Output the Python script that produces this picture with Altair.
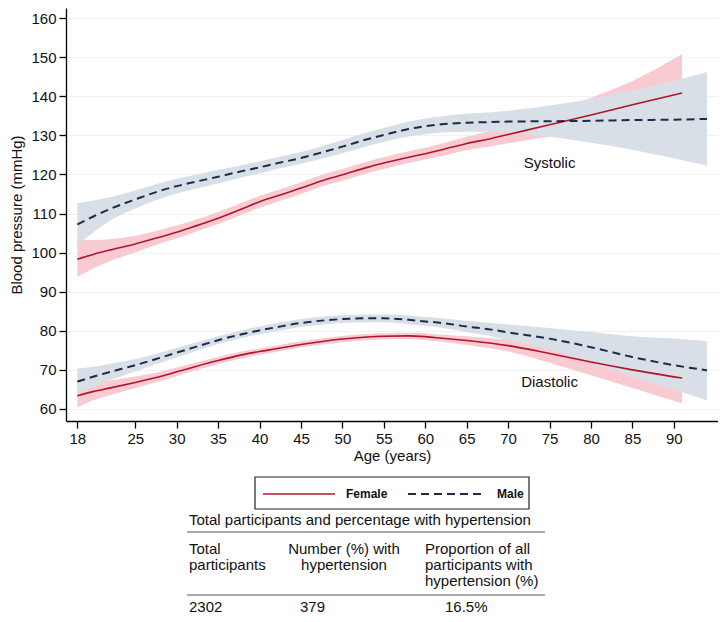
import altair as alt
import pandas as pd

FONT = "Liberation Sans"
RED = "#b3142c"
NAVY = "#1b2b48"
PINK = "#f8cbd3"
GRAY = "#d9dfe7"

# ---------------- data ----------------
female_age = [18, 20, 22, 25, 28, 30, 32, 35, 38, 40, 42, 45, 48, 50, 53, 55, 58, 60, 62, 65, 68, 70, 75, 80, 85, 91]
female_sys = [98.3, 99.6, 100.7, 102.2, 104.0, 105.2, 106.6, 108.8, 111.3, 113.0, 114.4, 116.5, 118.7, 119.9, 121.8,
              122.9, 124.4, 125.3, 126.3, 127.9, 129.2, 130.2, 132.7, 135.2, 137.8, 140.8]
female_sys_lo = [93.8, 96.0, 97.9, 100.0, 102.3, 103.6, 105.1, 107.3, 109.8, 111.5, 112.9, 115.0, 117.2, 118.4, 120.3,
                 121.4, 122.9, 123.8, 124.7, 126.2, 127.2, 128.0, 129.6, 131.0, 131.8, 131.0]
female_sys_hi = [103.2, 103.2, 103.4, 104.3, 105.8, 106.9, 108.2, 110.4, 112.9, 114.5, 115.9, 118.0, 120.2, 121.4, 123.3,
                 124.4, 125.9, 126.8, 127.9, 129.6, 131.2, 132.4, 135.8, 139.6, 143.9, 150.8]
female_dia = [63.4, 64.5, 65.4, 66.8, 68.3, 69.5, 70.7, 72.4, 73.9, 74.7, 75.4, 76.5, 77.4, 77.9, 78.4,
              78.6, 78.7, 78.5, 78.1, 77.5, 76.8, 76.2, 74.2, 72.0, 70.0, 67.9]
female_dia_lo = [60.4, 62.3, 63.6, 65.4, 67.1, 68.4, 69.7, 71.5, 73.0, 73.9, 74.6, 75.7, 76.6, 77.1, 77.6,
                 77.8, 77.9, 77.6, 77.2, 76.4, 75.5, 74.7, 71.8, 68.6, 65.4, 61.4]
female_dia_hi = [65.3, 66.5, 67.3, 68.3, 69.5, 70.6, 71.7, 73.3, 74.8, 75.5, 76.2, 77.3, 78.2, 78.7, 79.2,
                 79.4, 79.5, 79.4, 79.0, 78.6, 78.1, 77.7, 76.6, 75.4, 74.6, 74.4]

male_age = [18, 20, 22, 25, 28, 30, 32, 35, 38, 40, 42, 45, 48, 50, 53, 55, 58, 60, 62, 65, 68, 70, 75, 80, 85, 90, 94]
male_sys = [107.2, 109.3, 111.2, 113.6, 115.8, 117.0, 118.0, 119.4, 120.9, 121.8, 122.8, 124.2, 125.9, 127.1, 129.0,
            130.1, 131.6, 132.3, 132.8, 133.2, 133.4, 133.5, 133.6, 133.7, 133.9, 134.0, 134.2]
male_sys_lo = [101.9, 105.3, 108.2, 111.3, 113.8, 115.1, 116.2, 117.7, 119.3, 120.3, 121.3, 122.7, 124.3, 125.4, 127.2,
               128.3, 129.7, 130.3, 130.7, 130.9, 130.9, 130.7, 129.6, 128.1, 126.3, 124.1, 122.2]
male_sys_hi = [112.6, 113.3, 114.2, 115.9, 117.8, 118.9, 119.8, 121.1, 122.5, 123.3, 124.3, 125.7, 127.5, 128.8, 130.8,
               131.9, 133.5, 134.3, 134.9, 135.5, 135.9, 136.3, 137.6, 139.3, 141.5, 143.9, 146.2]
male_dia = [67.0, 68.3, 69.5, 71.2, 73.1, 74.4, 75.7, 77.6, 79.2, 80.1, 80.9, 82.0, 82.7, 83.0, 83.2,
            83.2, 82.8, 82.4, 82.0, 81.1, 80.3, 79.6, 78.0, 75.8, 73.3, 71.2, 69.9]
male_dia_lo = [64.0, 65.8, 67.4, 69.6, 71.8, 73.2, 74.6, 76.6, 78.2, 79.1, 79.9, 81.0, 81.7, 82.0, 82.2,
               82.2, 81.7, 81.3, 80.8, 79.7, 78.6, 77.6, 75.3, 71.9, 68.4, 65.0, 62.2]
male_dia_hi = [70.4, 70.8, 71.6, 72.8, 74.4, 75.6, 76.8, 78.6, 80.2, 81.1, 81.9, 83.0, 83.7, 84.0, 84.2,
               84.2, 83.9, 83.5, 83.2, 82.5, 82.0, 81.6, 80.7, 79.7, 78.6, 78.0, 77.4]

x_ticks = [18, 25, 30, 35, 40, 45, 50, 55, 60, 65, 70, 75, 80, 85, 90]
y_ticks = [60, 70, 80, 90, 100, 110, 120, 130, 140, 150, 160]

curve_labels = ["Systolic", "Diastolic"]
curve_label_age = [75, 75]
curve_label_val = [122.9, 66.9]

legend_labels = ["Female", "Male"]
table_title = "Total participants and percentage with hypertension"
col1_header = ["Total", "participants"]
col2_header = ["Number (%) with", "hypertension"]
col3_header = ["Proportion of all", "participants with", "hypertension (%)"]
row_values = ["2302", "379", "16.5%"]


def frame(ages, vals, lo, hi, measure):
    return pd.DataFrame({"age": ages, "value": vals, "lo": lo, "hi": hi, "measure": measure})


df_f = pd.concat([frame(female_age, female_sys, female_sys_lo, female_sys_hi, "Systolic"),
                  frame(female_age, female_dia, female_dia_lo, female_dia_hi, "Diastolic")])
df_m = pd.concat([frame(male_age, male_sys, male_sys_lo, male_sys_hi, "Systolic"),
                  frame(male_age, male_dia, male_dia_lo, male_dia_hi, "Diastolic")])
df_lab = pd.DataFrame({"label": curve_labels, "age": curve_label_age, "value": curve_label_val})

# ---------------- scales / axes ----------------
W, H = 652, 413
OX, OY = 66, 8  # page position of plot origin

xscale = alt.Scale(domain=[16.64, 95.33], nice=False, zero=False)
yscale = alt.Scale(domain=[56.93, 162.56], nice=False, zero=False)
xaxis = alt.Axis(values=x_ticks, title="Age (years)", grid=False, labelFlush=False,
                 tickSize=7, labelPadding=3, titlePadding=2)
yaxis = alt.Axis(values=y_ticks, title="Blood pressure (mmHg)", grid=True, labelFlush=False,
                 tickSize=7, labelPadding=3, titlePadding=6)

X = alt.X("age:Q", scale=xscale, axis=xaxis)
Y = alt.Y("value:Q", scale=yscale, axis=yaxis)
YL = alt.Y("lo:Q", scale=yscale, axis=yaxis)

band_f = alt.Chart(df_f).mark_area(color=PINK, opacity=1, interpolate="monotone").encode(
    x=X, y=YL, y2="hi:Q", detail="measure:N")
band_m = alt.Chart(df_m).mark_area(color=GRAY, opacity=1, interpolate="monotone").encode(
    x=X, y=YL, y2="hi:Q", detail="measure:N")
line_f = alt.Chart(df_f).mark_line(color=RED, strokeWidth=1.6, interpolate="monotone").encode(
    x=X, y=Y, detail="measure:N")
line_m = alt.Chart(df_m).mark_line(color=NAVY, strokeWidth=2, strokeDash=[8, 5], interpolate="monotone").encode(
    x=X, y=Y, detail="measure:N")
labels = alt.Chart(df_lab).mark_text(font=FONT, fontSize=15, color="#111", align="center",
                                     baseline="middle").encode(x=X, y=Y, text="label:N")

one = pd.DataFrame({"k": [0]})


def txt(s, x, y, align="left", size=15, weight="normal"):
    return alt.Chart(one).mark_text(align=align, baseline="middle", fontSize=size, fontWeight=weight,
                                    font=FONT, color="#111").encode(
        x=alt.value(x - OX), y=alt.value(y - OY), text=alt.value(s))


def hrule(x1, x2, y, color="#333", width=1.0, dash=None):
    kw = dict(color=color, strokeWidth=width)
    if dash:
        kw["strokeDash"] = dash
    return alt.Chart(one).mark_rule(**kw).encode(
        x=alt.value(x1 - OX), x2=alt.value(x2 - OX), y=alt.value(y - OY))


legend_box = alt.Chart(one).mark_rect(fill="white", stroke="#222", strokeWidth=1.2).encode(
    x=alt.value(255 - OX), x2=alt.value(529 - OX), y=alt.value(477 - OY), y2=alt.value(509 - OY))

annot = [legend_box,
         hrule(263, 335, 494, color=RED, width=1.6),
         txt(legend_labels[0], 346, 494, size=12, weight="bold"),
         hrule(408, 481, 494, color=NAVY, width=2, dash=[8, 5]),
         txt(legend_labels[1], 497, 494, size=12, weight="bold"),
         txt(table_title, 189, 520),
         hrule(187, 545, 532, color="#555"),
         hrule(187, 545, 595, color="#555")]
for i, s in enumerate(col1_header):
    annot.append(txt(s, 189, 549 + 16 * i))
for i, s in enumerate(col2_header):
    annot.append(txt(s, 344, 549 + 16 * i, align="center"))
for i, s in enumerate(col3_header):
    annot.append(txt(s, 425, 549 + 16 * i))
annot.append(txt(row_values[0], 189, 607))
annot.append(txt(row_values[1], 300, 607))
annot.append(txt(row_values[2], 445, 607))

chart = alt.layer(band_f, band_m, line_f, line_m, labels, *annot).properties(
    width=W, height=H,
    background="white",
    autosize=alt.AutoSizeParams(type="none"),
    padding={"left": 58, "top": 0, "right": 0, "bottom": 193},
).configure_view(stroke=None).configure_axis(
    domainColor="#000", domainWidth=1.3, tickColor="#000", tickWidth=1.3,
    labelFont=FONT, labelFontSize=15, labelColor="#111",
    titleFont=FONT, titleFontSize=15, titleFontWeight="normal", titleColor="#111",
    gridColor="#eef2f5", gridWidth=1,
)

chart.save("out.html", embed_options={"renderer": "svg", "actions": False})
